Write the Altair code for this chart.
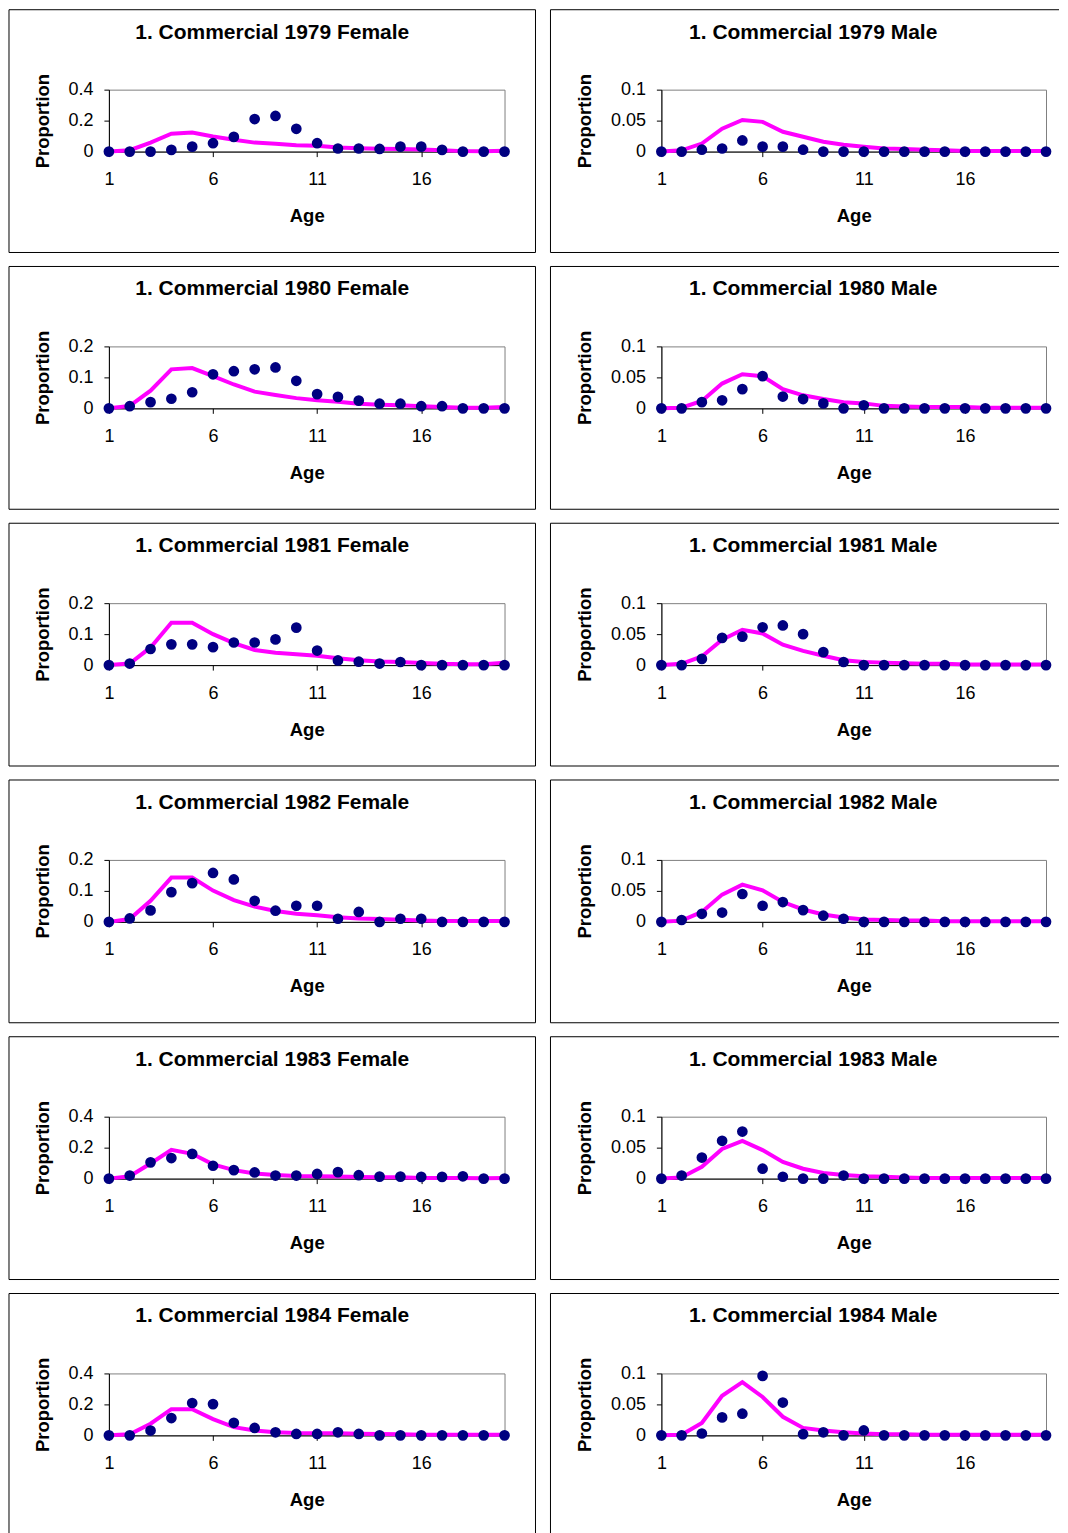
import altair as alt
import pandas as pd

ages = list(range(1, 21))
years = [1979, 1980, 1981, 1982, 1983, 1984]

F1979_obs = [0, 0, 0, 0.011, 0.032, 0.054, 0.095, 0.21, 0.23, 0.147, 0.054, 0.02, 0.02, 0.017, 0.032, 0.032, 0.011, 0, 0, 0]
F1979_pred = [0, 0.009, 0.058, 0.115, 0.123, 0.097, 0.076, 0.058, 0.05, 0.041, 0.037, 0.026, 0.022, 0.019, 0.017, 0.013, 0.009, 0.003, 0.002, 0.005]
M1979_obs = [0, 0, 0.003, 0.005, 0.018, 0.008, 0.008, 0.003, 0, 0, 0, 0, 0, 0, 0, 0, 0, 0, 0, 0]
M1979_pred = [0, 0.002, 0.013, 0.037, 0.051, 0.048, 0.032, 0.024, 0.016, 0.011, 0.008, 0.005, 0.004, 0.003, 0.002, 0.001, 0.001, 0.001, 0.001, 0.001]

F1980_obs = [0, 0.007, 0.02, 0.031, 0.052, 0.11, 0.12, 0.126, 0.132, 0.089, 0.046, 0.037, 0.025, 0.015, 0.015, 0.007, 0.007, 0, 0, 0]
F1980_pred = [0, 0.008, 0.057, 0.126, 0.13, 0.104, 0.077, 0.054, 0.043, 0.033, 0.026, 0.021, 0.015, 0.012, 0.01, 0.007, 0.004, 0.002, 0.002, 0.004]
M1980_obs = [0, 0, 0.01, 0.013, 0.031, 0.052, 0.019, 0.015, 0.008, 0, 0.005, 0, 0, 0, 0, 0, 0, 0, 0, 0]
M1980_pred = [0, 0.001, 0.012, 0.04, 0.055, 0.052, 0.031, 0.021, 0.015, 0.01, 0.008, 0.004, 0.003, 0.002, 0.002, 0.002, 0.001, 0.001, 0.001, 0.001]

F1981_obs = [0, 0.005, 0.052, 0.067, 0.067, 0.058, 0.073, 0.073, 0.083, 0.121, 0.047, 0.015, 0.011, 0.005, 0.01, 0, 0, 0, 0, 0]
F1981_pred = [0, 0.005, 0.057, 0.137, 0.137, 0.1, 0.071, 0.049, 0.04, 0.035, 0.03, 0.022, 0.016, 0.012, 0.01, 0.007, 0.004, 0.003, 0.003, 0.008]
M1981_obs = [0, 0, 0.01, 0.044, 0.046, 0.061, 0.064, 0.05, 0.021, 0.005, 0, 0, 0, 0, 0, 0, 0, 0, 0, 0]
M1981_pred = [0, 0.002, 0.014, 0.041, 0.057, 0.051, 0.033, 0.023, 0.015, 0.008, 0.005, 0.004, 0.003, 0.002, 0.002, 0.001, 0.001, 0.001, 0.001, 0.001]

F1982_obs = [0, 0.011, 0.037, 0.096, 0.125, 0.158, 0.137, 0.068, 0.036, 0.052, 0.052, 0.01, 0.032, 0, 0.01, 0.01, 0, 0, 0, 0]
F1982_pred = [0, 0.009, 0.068, 0.143, 0.143, 0.101, 0.07, 0.049, 0.035, 0.026, 0.021, 0.015, 0.011, 0.009, 0.007, 0.004, 0.003, 0.003, 0.003, 0.003]
M1982_obs = [0, 0.003, 0.013, 0.015, 0.045, 0.026, 0.032, 0.019, 0.01, 0.005, 0, 0, 0, 0, 0, 0, 0, 0, 0, 0]
M1982_pred = [0, 0.002, 0.016, 0.044, 0.06, 0.051, 0.032, 0.02, 0.012, 0.007, 0.004, 0.003, 0.002, 0.002, 0.001, 0.001, 0.001, 0.001, 0.001, 0.001]

F1983_obs = [0, 0.02, 0.105, 0.133, 0.16, 0.083, 0.055, 0.04, 0.02, 0.02, 0.03, 0.042, 0.022, 0.013, 0.013, 0.011, 0.011, 0.015, 0, 0]
F1983_pred = [0, 0.015, 0.098, 0.186, 0.16, 0.092, 0.055, 0.033, 0.024, 0.017, 0.015, 0.013, 0.011, 0.009, 0.009, 0.004, 0.004, 0.004, 0.002, 0.004]
M1983_obs = [0, 0.005, 0.034, 0.061, 0.076, 0.016, 0.003, 0, 0, 0.005, 0, 0, 0, 0, 0, 0, 0, 0, 0, 0]
M1983_pred = [0, 0.002, 0.019, 0.048, 0.061, 0.046, 0.027, 0.016, 0.009, 0.006, 0.004, 0.003, 0.002, 0.001, 0.001, 0.001, 0.001, 0.001, 0.001, 0.001]

F1984_obs = [0, 0, 0.031, 0.112, 0.209, 0.202, 0.081, 0.048, 0.02, 0.009, 0.009, 0.02, 0.009, 0, 0, 0, 0, 0, 0, 0]
F1984_pred = [0, 0.007, 0.075, 0.169, 0.169, 0.105, 0.053, 0.031, 0.02, 0.015, 0.013, 0.013, 0.011, 0.009, 0.007, 0.004, 0.004, 0.004, 0.004, 0.004]
M1984_obs = [0, 0, 0.003, 0.029, 0.035, 0.096, 0.053, 0.002, 0.005, 0, 0.008, 0, 0, 0, 0, 0, 0, 0, 0, 0]
M1984_pred = [0, 0.001, 0.02, 0.064, 0.086, 0.062, 0.03, 0.012, 0.008, 0.005, 0.003, 0.002, 0.002, 0.001, 0.001, 0.001, 0.001, 0.001, 0.001, 0.001]

female_obs = [F1979_obs, F1980_obs, F1981_obs, F1982_obs, F1983_obs, F1984_obs]
female_pred = [F1979_pred, F1980_pred, F1981_pred, F1982_pred, F1983_pred, F1984_pred]
male_obs = [M1979_obs, M1980_obs, M1981_obs, M1982_obs, M1983_obs, M1984_obs]
male_pred = [M1979_pred, M1980_pred, M1981_pred, M1982_pred, M1983_pred, M1984_pred]

female_ymax = [0.4, 0.2, 0.2, 0.2, 0.4, 0.4]
female_ticks = [[0, 0.2, 0.4], [0, 0.1, 0.2], [0, 0.1, 0.2], [0, 0.1, 0.2], [0, 0.2, 0.4], [0, 0.2, 0.4]]
male_ymax = [0.1] * 6
male_ticks = [[0, 0.05, 0.1]] * 6
x_ticks = [1, 6, 11, 16]

FONT = "Liberation Sans"
PLOT_H = 62
FTOP, FBOT = -80, 163


def panel(title, obs, pred, ymax, yticks, left):
    width = 396 if left else 385
    fx0, fx1 = (-100, 427) if left else (-111, 398)
    tcx = 163.5 if left else 152
    ytitle_x = -66 if left else -77
    df = pd.DataFrame({"Age": ages, "Observed": obs, "Predicted": pred})
    base = alt.Chart(df)
    one = alt.Chart(pd.DataFrame({"k": [0]}))
    xenc = alt.X(
        "Age:Q",
        scale=alt.Scale(domain=[1, 20], nice=False, zero=False),
        axis=alt.Axis(values=x_ticks, title="Age", format="d", tickSize=5,
                      labelPadding=14, titleY=64, titleBaseline="middle",
                      labelFlush=False),
    )
    yscale = alt.Scale(domain=[0, ymax], nice=False)
    yaxis = alt.Axis(values=yticks, format="~g", title="Proportion", tickSize=5,
                     labelPadding=11, titleX=ytitle_x, titleBaseline="middle",
                     labelFlush=False)
    if left:
        frames = [one.mark_rect(filled=False, stroke="black", strokeWidth=1, clip=False).encode(
            x=alt.value(fx0), x2=alt.value(fx1), y=alt.value(FTOP), y2=alt.value(FBOT))]
    else:
        rule = one.mark_rule(color="black", strokeWidth=1, clip=False)
        frames = [
            rule.encode(x=alt.value(fx0), x2=alt.value(fx1), y=alt.value(FTOP)),
            rule.encode(x=alt.value(fx0), x2=alt.value(fx1), y=alt.value(FBOT)),
            rule.encode(x=alt.value(fx0), y=alt.value(FTOP), y2=alt.value(FBOT)),
        ]
    line = base.mark_line(color="#FF00FF", strokeWidth=4).encode(
        x=xenc, y=alt.Y("Predicted:Q", scale=yscale, axis=yaxis)
    )
    pts = base.mark_circle(color="#000080", size=115, opacity=1).encode(
        x=xenc, y=alt.Y("Observed:Q", scale=yscale, axis=yaxis)
    )
    ttl = alt.Chart(pd.DataFrame({"t": [title]})).mark_text(
        font=FONT, fontSize=21, fontWeight="bold", color="black", align="center", baseline="middle"
    ).encode(text="t:N", x=alt.value(tcx), y=alt.value(-57))
    return alt.layer(*frames, line, pts, ttl).properties(width=width, height=PLOT_H)


rows = []
for i, yr in enumerate(years):
    lp = panel(f"1. Commercial {yr} Female", female_obs[i], female_pred[i], female_ymax[i], female_ticks[i], True)
    rp = panel(f"1. Commercial {yr} Male", male_obs[i], male_pred[i], male_ymax[i], male_ticks[i], False)
    rows.append(alt.hconcat(lp, rp, spacing=13))

chart = alt.vconcat(*rows, spacing=12).properties(
    padding={"left": 0, "top": 0, "right": 0, "bottom": 0},
    background="white",
).configure_view(stroke="#808080", strokeWidth=1).configure_axis(
    grid=False, domainColor="black", tickColor="black", domainWidth=1,
    labelFont=FONT, labelFontSize=18, labelColor="black",
    titleFont=FONT, titleFontSize=18.5, titleColor="black", titleFontWeight="bold",
)

chart.save("out.html", embed_options={"renderer": "svg", "actions": False})
